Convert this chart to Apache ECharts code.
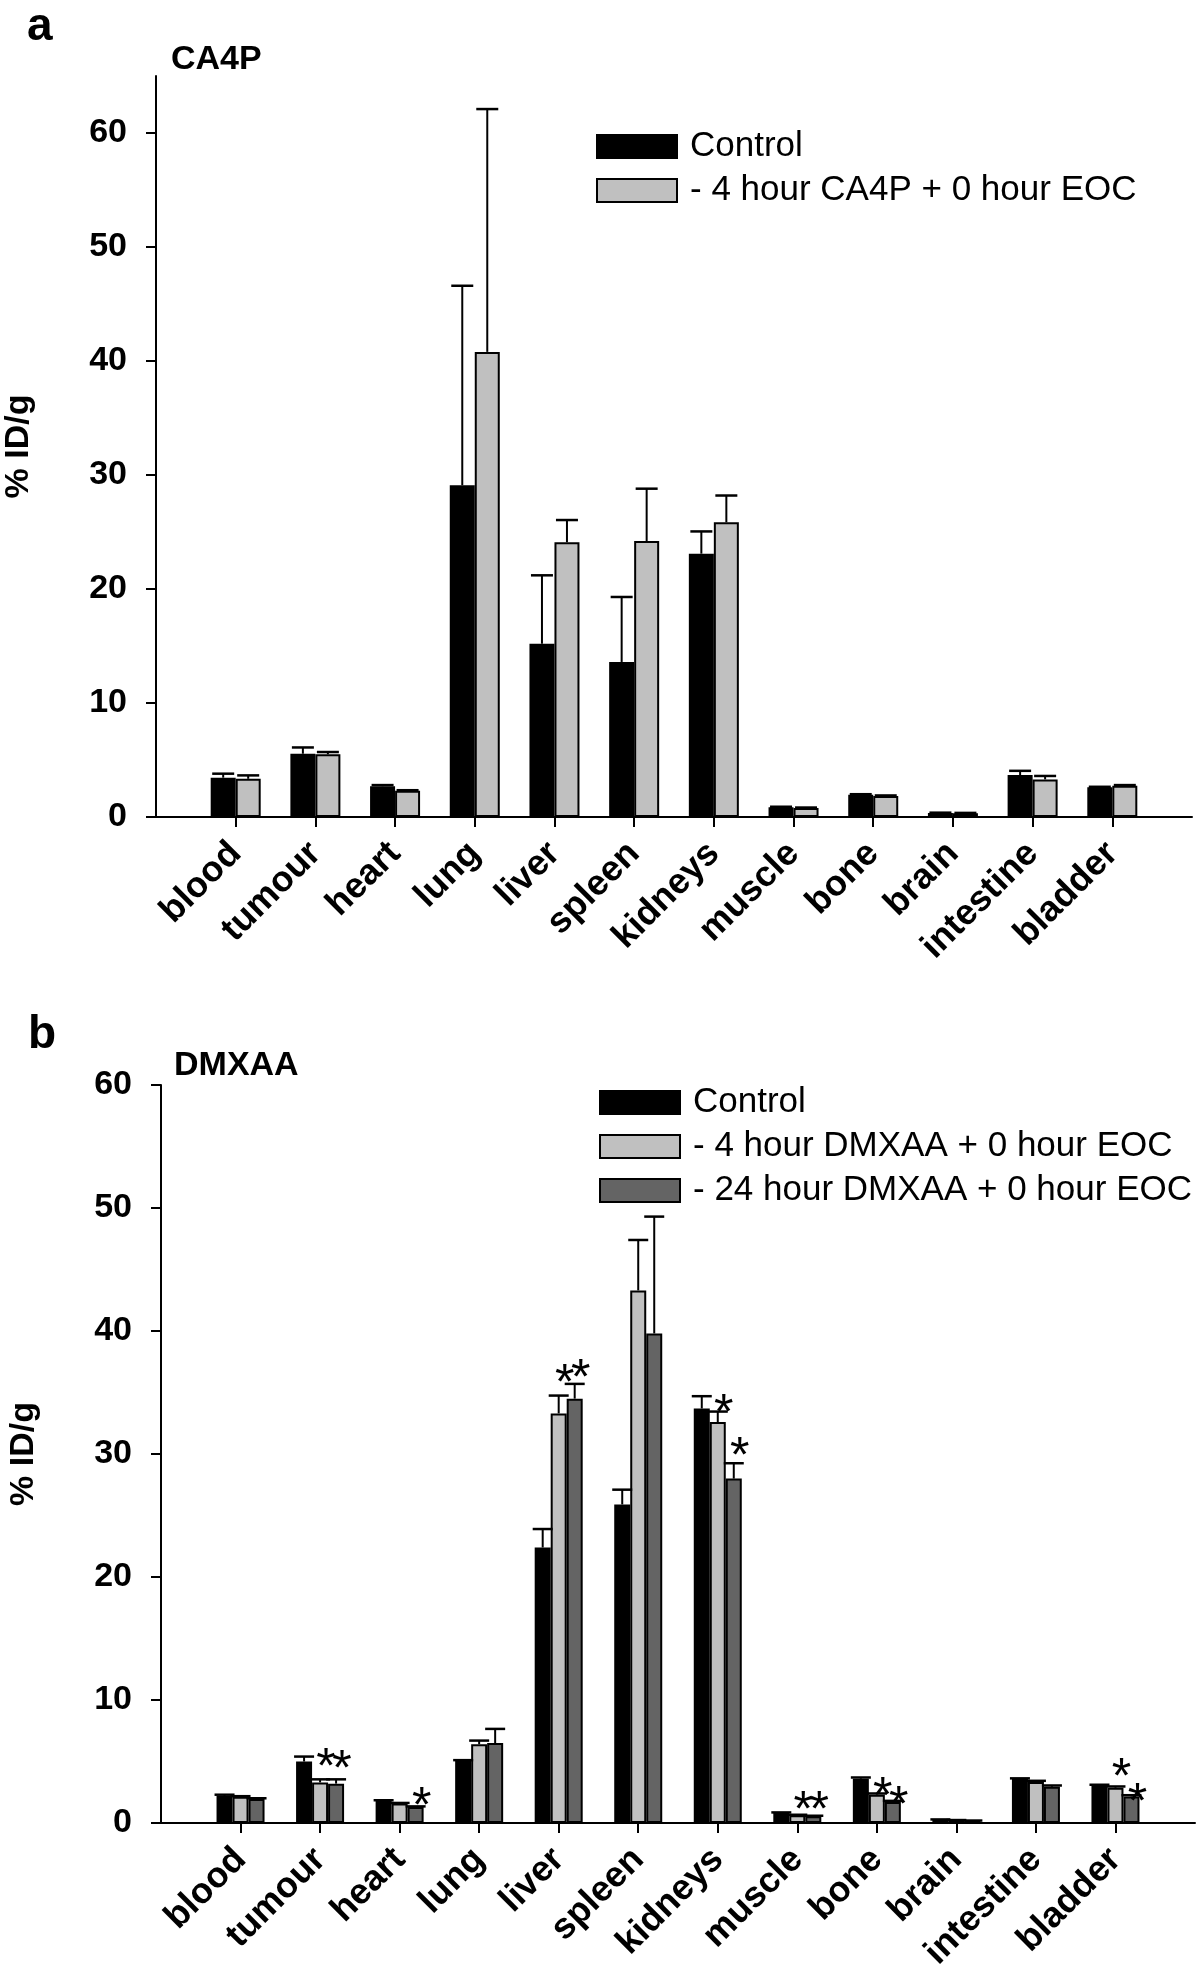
<!DOCTYPE html>
<html>
<head>
<meta charset="utf-8">
<script src="https://cdn.jsdelivr.net/npm/echarts@6/dist/echarts.min.js"></script>
<style>
html,body{margin:0;padding:0;background:#fff;}
#chart{width:1200px;height:1970px;}
</style>
</head>
<body>
<div id="chart"></div>
<script>
// ---------- data ----------
const categories = ['blood','tumour','heart','lung','liver','spleen','kidneys','muscle','bone','brain','intestine','bladder'];
const yTicksA = [0,10,20,30,40,50,60];
const yTicksB = [0,10,20,30,40,50,60];

// Panel a: CA4P
const ca4pControl     = [3.45,5.55,2.7,29.1,15.2,13.6,23.1,0.85,1.95,0.35,3.68,2.6];
const ca4pControlErr  = [0.35,0.55,0.1,17.5,6.0,5.7,1.95,0.05,0.05,0.03,0.37,0.05];
const ca4pTreated     = [3.35,5.5,2.3,40.8,24.1,24.2,25.85,0.78,1.84,0.33,3.3,2.75];
const ca4pTreatedErr  = [0.3,0.2,0.05,21.3,1.95,4.6,2.35,0.05,0.05,0.03,0.3,0.05];

// Panel b: DMXAA
const dmxaaControl    = [2.2,5.0,1.8,5.06,22.4,25.9,33.7,0.81,3.6,0.27,3.58,3.06];
const dmxaaControlErr = [0.1,0.4,0.05,0.05,1.5,1.2,1.0,0.05,0.1,0.02,0.05,0.05];
const dmxaa4h         = [2.13,3.3,1.58,6.4,33.3,43.3,32.6,0.62,2.3,0.22,3.33,2.87];
const dmxaa4hErr      = [0.05,0.25,0.05,0.3,1.45,4.1,0.85,0.05,0.1,0.02,0.1,0.1];
const dmxaa24h        = [1.96,3.2,1.3,6.5,34.5,39.8,28.0,0.54,1.7,0.18,2.95,2.16];
const dmxaa24hErr     = [0.05,0.35,0.05,1.15,1.2,9.5,1.25,0.05,0.1,0.02,0.1,0.1];

// significance asterisks (vertical position in % ID/g, null = none)
const star4h  = [null,5.37,null,null,36.6,null,34.1,1.87,2.95,null,null,4.53];
const star24h = [null,5.2,2.16,null,37.0,null,30.6,1.87,2.28,null,null,2.54];

const namesA = ['Control','- 4 hour CA4P + 0 hour EOC'];
const namesB = ['Control','- 4 hour DMXAA + 0 hour EOC','- 24 hour DMXAA + 0 hour EOC'];

// ---------- helpers ----------
const FONT = 'Liberation Sans, Arial, Helvetica, sans-serif';
const paddedCats = [''].concat(categories).concat(['']);
function pad(arr){ return [null].concat(arr).concat([null]); }

function barSeries(name, data, color, gi, bw){
  return {
    type:'bar', name:name, xAxisIndex:gi, yAxisIndex:gi,
    data: pad(data), barWidth: bw, barGap:'0%',
    itemStyle:{color:color, borderColor:'#000', borderWidth:2},
    emphasis:{disabled:true}, z:2
  };
}
function errSeries(vals, errs, gi, idx, n, bw, cap){
  const d = vals.map((v,i)=>[i+1, v, errs[i]]);
  return {
    type:'custom', xAxisIndex:gi, yAxisIndex:gi, z:3, silent:true,
    data:d, encode:{x:0,y:1},
    renderItem:function(params, api){
      const ci = api.value(0), v = api.value(1), e = api.value(2);
      const b = api.coord([ci, v]);
      const t = api.coord([ci, v+e]);
      const x = b[0] + (idx-(n-1)/2)*bw;
      return {type:'group', children:[
        {type:'line', shape:{x1:x,y1:b[1],x2:x,y2:t[1]}, style:{stroke:'#000',lineWidth:2}},
        {type:'line', shape:{x1:x-cap/2,y1:t[1],x2:x+cap/2,y2:t[1]}, style:{stroke:'#000',lineWidth:2.5}}
      ]};
    }
  };
}
function starSeries(pos, gi, idx, n, bw, dx){
  const d = [];
  pos.forEach((p,i)=>{ if(p!=null) d.push([i+1, p]); });
  return {
    type:'custom', xAxisIndex:gi, yAxisIndex:gi, z:4, silent:true,
    data:d, encode:{x:0,y:1},
    renderItem:function(params, api){
      const c = api.coord([api.value(0), api.value(1)]);
      const x = c[0] + (idx-(n-1)/2)*bw + dx;
      return {type:'text', x:x, y:c[1]+12, style:{text:'*', font:'50px '+FONT, fill:'#000', align:'center', verticalAlign:'middle'}};
    }
  };
}

function xAxisCfg(gi){
  return {
    type:'category', gridIndex:gi, data:paddedCats, boundaryGap:false,
    axisLine:{show:true, lineStyle:{color:'#000', width:2}},
    axisTick:{show:true, length:10, lineStyle:{color:'#000', width:2},
      interval:function(i, v){ return v !== ''; }},
    axisLabel:{interval:0, rotate:45, margin:31, padding:[6,0,0,0], color:'#000', fontFamily:FONT, fontWeight:'bold', fontSize:36},
    splitLine:{show:false}
  };
}
function yAxisCfg(gi, max, ticks){
  return {
    type:'value', gridIndex:gi, min:0, max:max, interval:10,
    name:'% ID/g', nameLocation:'middle', nameGap:120, nameRotate:90,
    nameTextStyle:{color:'#000', fontFamily:FONT, fontWeight:'bold', fontSize:34},
    axisLine:{show:true, lineStyle:{color:'#000', width:2}},
    axisTick:{show:true, length:10, lineStyle:{color:'#000', width:2}, customValues:ticks},
    axisLabel:{color:'#000', fontFamily:FONT, fontWeight:'bold', fontSize:34, margin:29, customValues:ticks},
    splitLine:{show:false}
  };
}

const BWA = 25, BWB = 16;
const option = {
  animation:false,
  backgroundColor:'#fff',
  textStyle:{fontFamily:FONT},
  title:[
    {text:'a', left:27, top:4, padding:0, textStyle:{fontFamily:FONT, fontSize:46, fontWeight:'bold', color:'#000'}},
    {text:'CA4P', left:171, top:43, padding:0, textStyle:{fontFamily:FONT, fontSize:34, fontWeight:'bold', color:'#000'}},
    {text:'b', left:28, top:1012, padding:0, textStyle:{fontFamily:FONT, fontSize:46, fontWeight:'bold', color:'#000'}},
    {text:'DMXAA', left:174, top:1049, padding:0, textStyle:{fontFamily:FONT, fontSize:34, fontWeight:'bold', color:'#000'}}
  ],
  legend:[
    {data:namesA, orient:'vertical', left:596, top:129, padding:0, itemWidth:80, itemHeight:23, itemGap:9,
     icon:'rect', selectedMode:false,
     textStyle:{fontFamily:FONT, fontSize:35, color:'#000', padding:[0,0,0,8]}},
    {data:namesB, orient:'vertical', left:599, top:1085, padding:0, itemWidth:80, itemHeight:23, itemGap:9,
     icon:'rect', selectedMode:false,
     textStyle:{fontFamily:FONT, fontSize:35, color:'#000', padding:[0,0,0,8]}}
  ],
  grid:[
    {left:156, right:8, top:76, bottom:1153, containLabel:false, outerBoundsMode:'none'},
    {left:161, right:5, top:1085, bottom:147, containLabel:false, outerBoundsMode:'none'}
  ],
  xAxis:[xAxisCfg(0), xAxisCfg(1)],
  yAxis:[yAxisCfg(0, 65, yTicksA), yAxisCfg(1, 60, yTicksB)],
  series:[
    barSeries(namesA[0], ca4pControl, '#000000', 0, BWA),
    barSeries(namesA[1], ca4pTreated, '#c0c0c0', 0, BWA),
    errSeries(ca4pControl, ca4pControlErr, 0, 0, 2, BWA, 22),
    errSeries(ca4pTreated, ca4pTreatedErr, 0, 1, 2, BWA, 22),

    barSeries(namesB[0], dmxaaControl, '#000000', 1, BWB),
    barSeries(namesB[1], dmxaa4h, '#c0c0c0', 1, BWB),
    barSeries(namesB[2], dmxaa24h, '#646464', 1, BWB),
    errSeries(dmxaaControl, dmxaaControlErr, 1, 0, 3, BWB, 20),
    errSeries(dmxaa4h, dmxaa4hErr, 1, 1, 3, BWB, 20),
    errSeries(dmxaa24h, dmxaa24hErr, 1, 2, 3, BWB, 20),
    starSeries(star4h, 1, 1, 3, BWB, 6),
    starSeries(star24h, 1, 2, 3, BWB, 6)
  ]
};
const chart = echarts.init(document.getElementById('chart'), null, {renderer:'canvas'});
chart.setOption(option);
</script>
</body>
</html>
